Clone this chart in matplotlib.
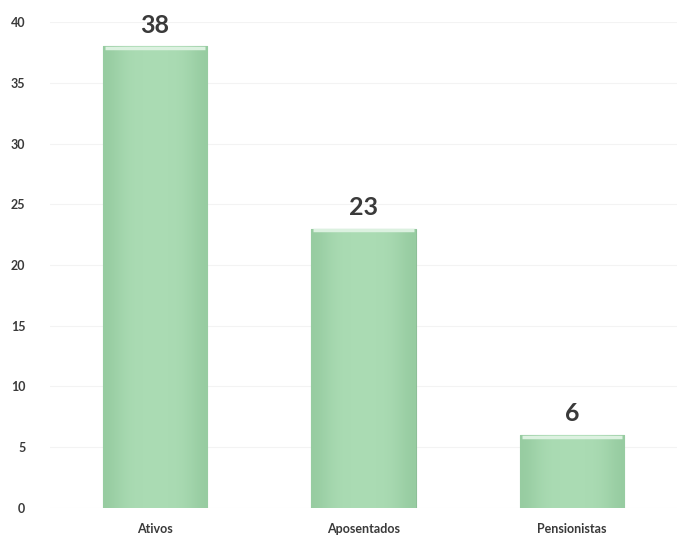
import numpy as np
import matplotlib.pyplot as plt
from matplotlib.colors import LinearSegmentedColormap

categories = ['Ativos', 'Aposentados', 'Pensionistas']
values = [38, 23, 6]
yticks = [0, 5, 10, 15, 20, 25, 30, 35, 40]

plt.rcParams['font.family'] = ['Lato', 'DejaVu Sans']

fig = plt.figure(figsize=(6.8, 5.38), dpi=100)
ax = fig.add_axes([0.074, 0.056, 0.921, 0.903])

x = np.arange(len(categories))
bars = ax.bar(x, values, width=0.5, color='#a6d8b0', edgecolor='#8dbf97', linewidth=0.8, zorder=2)

# soft horizontal shading on each bar
cmap = LinearSegmentedColormap.from_list('g', ['#97cca1', '#aadbb3'])
grad = np.array([[0.0, 0.7, 1.0, 1.0, 1.0, 1.0, 0.7, 0.0]])
for b in bars:
    x0, y0 = b.get_x(), b.get_y()
    w, h = b.get_width(), b.get_height()
    im = ax.imshow(grad, cmap=cmap, aspect='auto', extent=[x0, x0 + w, y0, y0 + h],
                   zorder=2.5, interpolation='bicubic')
    im.set_clip_path(b)
    ax.plot([x0 + 0.01, x0 + w - 0.01], [y0 + h - 0.15, y0 + h - 0.15], color='#dcf1e0',
            linewidth=2.5, zorder=3, solid_capstyle='butt')

for xi, v in zip(x, values):
    ax.text(xi, v + 0.8, str(v), ha='center', va='bottom', fontsize=18, fontweight='bold',
            color='#3a3a3a')

ax.set_xlim(-0.5, 2.5)
ax.set_ylim(0, 40)
ax.set_yticks(yticks)
ax.set_xticks(x)
ax.set_xticklabels(categories, fontsize=9, fontweight='bold', color='#3a3a3a')
ax.tick_params(axis='y', labelsize=9, labelcolor='#3a3a3a', length=0, pad=18)
ax.tick_params(axis='x', length=0, pad=11)
for lab in ax.get_yticklabels():
    lab.set_fontweight('bold')
ax.grid(axis='y', color='#f3f3f3', linewidth=0.8, zorder=0)
for s in ax.spines.values():
    s.set_visible(False)

fig.savefig('out.png', dpi=100)
